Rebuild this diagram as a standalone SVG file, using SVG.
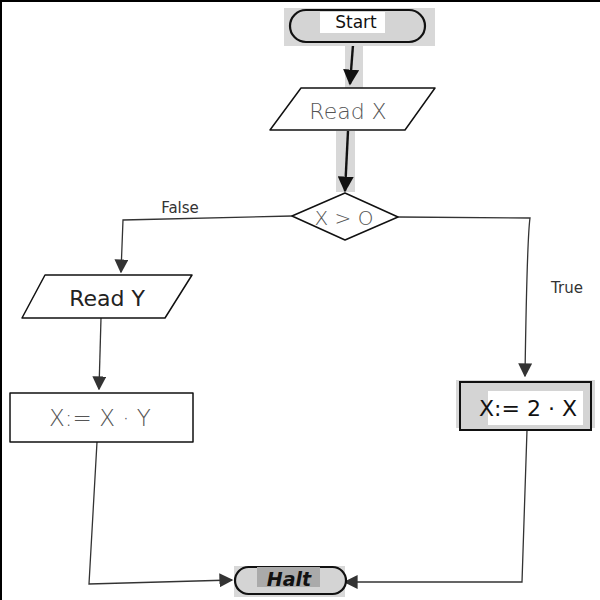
<svg xmlns="http://www.w3.org/2000/svg" width="600" height="600" viewBox="0 0 600 600">
  <defs>
    <marker id="arr" viewBox="0 0 10 10" refX="9" refY="5" markerWidth="14" markerHeight="14" markerUnits="userSpaceOnUse" orient="auto">
      <path d="M0,0 L10,5 L0,10 z" fill="#333"/>
    </marker>
    <marker id="arrBig" viewBox="0 0 10 10" refX="9" refY="5" markerWidth="16" markerHeight="16" markerUnits="userSpaceOnUse" orient="auto">
      <path d="M0,0 L10,5 L0,10 z" fill="#111"/>
    </marker>
  </defs>
  <style>
    .shape { stroke: #111; stroke-width: 1.5; fill: #fff; stroke-linejoin: round; }
    .term { stroke: #111; stroke-width: 2.2; fill: #d4d4d4; }
    .lbl { font-family: "DejaVu Sans", "Liberation Sans", sans-serif; text-anchor: middle; dominant-baseline: central; }
    .light { fill: #555; font-weight: 300; }
    .edge { fill: none; stroke: #333; stroke-width: 1.3; }
    .thick { fill: none; stroke: #111; stroke-width: 2.4; }
    .note { font-family: "DejaVu Sans", "Liberation Sans", sans-serif; font-size: 15px; fill: #333; }
  </style>
  <rect x="0" y="0" width="600" height="600" fill="#fff"/>
  <!-- frame edges -->
  <line x1="0" y1="1" x2="600" y2="1" stroke="#000" stroke-width="2"/>
  <line x1="1" y1="0" x2="1" y2="600" stroke="#000" stroke-width="2"/>

  <!-- gray strips behind the top arrows -->
  <rect x="345" y="45" width="18" height="43" fill="#d8d8d8"/>
  <rect x="336" y="131" width="19" height="61" fill="#d8d8d8"/>

  <g id="connectors">
    <path class="thick" d="M353,45 L350,84" marker-end="url(#arrBig)"/>
    <path class="thick" d="M348,131 L345,191" marker-end="url(#arrBig)"/>
    <path class="edge" d="M292,216 L123,220 L121,272" marker-end="url(#arr)"/>
    <path class="edge" d="M398,217 L530,218 Q527,240 525,376" marker-end="url(#arr)"/>
    <path class="edge" d="M101,318 L99,389" marker-end="url(#arr)"/>
    <path class="edge" d="M97,442 L89,584 L232,580" marker-end="url(#arr)"/>
    <path class="edge" d="M527,430 L522,582 L345,582" marker-end="url(#arr)"/>
    <text class="note" x="180" y="213" text-anchor="middle">False</text>
    <text class="note" x="567" y="293" text-anchor="middle">True</text>
  </g>

  <g id="start">
    <rect x="284" y="8" width="151" height="38" fill="#d8d8d8"/>
    <rect class="term" x="290" y="10" width="135" height="32" rx="16"/>
    <rect x="320" y="12" width="65" height="21" fill="#fff"/>
    <text class="lbl" x="356" y="22" font-size="17" fill="#111">Start</text>
  </g>

  <g id="read-x">
    <polygon class="shape" points="301,88 435,88 405,130 270,130"/>
    <text class="lbl light" x="348" y="111" font-size="22">Read  X</text>
  </g>

  <g id="test">
    <polygon class="shape" points="292,216 345,193 398,217 345,240"/>
    <text class="lbl light" x="344" y="218" font-size="20">X &gt; O</text>
  </g>

  <g id="read-y">
    <polygon class="shape" points="45,275 192,275 165,318 22,318"/>
    <text class="lbl" x="107" y="298" font-size="22" fill="#222">Read  Y</text>
  </g>

  <g id="mul">
    <rect class="shape" x="10" y="393" width="183" height="49" stroke-width="1.2"/>
    <text class="lbl light" x="100" y="418" font-size="23">X:= X · Y</text>
  </g>

  <g id="double">
    <rect x="456" y="380" width="139" height="48" fill="#d8d8d8"/>
    <rect x="460" y="382" width="131" height="48" fill="#d4d4d4" stroke="#111" stroke-width="2"/>
    <rect x="488" y="391" width="95" height="34" fill="#fff"/>
    <text class="lbl" x="528" y="408" font-size="22" fill="#111">X:= 2 · X</text>
  </g>

  <g id="halt">
    <rect x="234" y="566" width="111" height="31" fill="#d8d8d8"/>
    <rect class="term" x="235" y="567" width="111" height="27" rx="13.5"/>
    <rect x="257" y="567" width="63" height="20" fill="#aaa"/>
    <text class="lbl" x="289" y="579" font-size="19" font-style="italic" font-weight="bold" fill="#111">Halt</text>
  </g>
</svg>
